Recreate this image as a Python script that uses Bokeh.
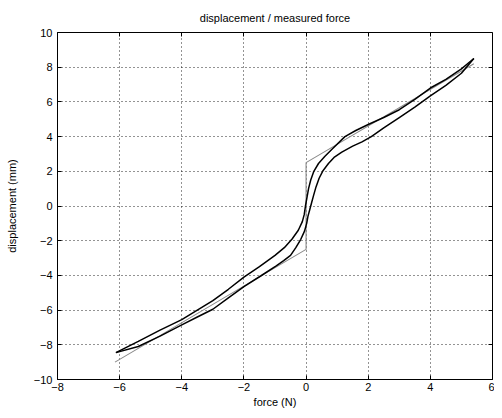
from bokeh.plotting import figure
from bokeh.models import Range1d, FixedTicker, LinearAxis, CustomJSTickFormatter
from bokeh.embed import file_html
from bokeh.resources import INLINE

# --- data ---
x_ticks = [-8, -6, -4, -2, 0, 2, 4, 6]
y_ticks = [-10, -8, -6, -4, -2, 0, 2, 4, 6, 8, 10]

# upper branch of the hysteresis loop (force N, displacement mm)
up_force = [-6.12, -5.4, -4.7, -4.0, -3.5, -3.0, -2.5, -2.0, -1.5, -1.0, -0.7, -0.45,
            -0.25, -0.12, -0.06, -0.02, 0.03, 0.08, 0.15, 0.25, 0.4, 0.6, 0.85, 1.25,
            1.6, 2.0, 2.5, 3.0, 3.5, 4.0, 4.5, 5.0, 5.4]
up_disp = [-8.45, -7.8, -7.15, -6.55, -6.0, -5.45, -4.8, -4.1, -3.5, -2.85, -2.4, -1.9,
           -1.4, -0.9, -0.5, 0.0, 0.5, 1.0, 1.5, 2.0, 2.45, 2.85, 3.3, 4.0,
           4.35, 4.7, 5.1, 5.55, 6.15, 6.8, 7.3, 7.9, 8.5]

# lower branch of the hysteresis loop
down_force = [5.4, 5.0, 4.5, 4.0, 3.5, 3.0, 2.5, 2.1, 1.8, 1.5, 1.15, 0.9, 0.72, 0.55,
              0.42, 0.32, 0.24, 0.18, 0.12, 0.06, 0.02, -0.05, -0.17, -0.33, -0.5,
              -0.72, -0.96, -1.45, -2.0, -2.5, -3.0, -3.5, -4.0, -4.7, -5.4, -6.12]
down_disp = [8.5, 7.65, 6.95, 6.35, 5.7, 5.1, 4.5, 4.0, 3.7, 3.45, 3.1, 2.8, 2.45, 2.05,
             1.6, 1.1, 0.6, 0.2, -0.2, -0.6, -1.0, -1.45, -1.92, -2.4, -2.85,
             -3.15, -3.45, -4.02, -4.65, -5.3, -5.95, -6.4, -6.85, -7.5, -8.1, -8.45]

# model (gray) line
model_force = [-6.15, 0.0, 0.0, 5.4]
model_disp = [-9.0, -2.5, 2.5, 8.2]

FONT = "Liberation Sans"

p = figure(width=494, height=410, output_backend="svg", toolbar_location=None,
           x_range=Range1d(-8, 6), y_range=Range1d(-10, 10),
           min_border_left=57, min_border_right=2, min_border_top=32, min_border_bottom=0,
           title="displacement / measured force")
p.background_fill_color = "white"
p.border_fill_color = "white"
p.outline_line_color = "black"
p.outline_line_width = 1

p.title.align = "center"
p.title.text_font = FONT
p.title.text_font_size = "11px"
p.title.text_font_style = "normal"
p.title.text_color = "black"
p.title.offset = 0
p.title.standoff = 17

for ax in (p.xaxis[0], p.yaxis[0]):
    ax.major_label_text_font = FONT
    ax.major_label_text_font_size = "11px"
    ax.major_label_text_color = "black"
    ax.axis_label_text_font = FONT
    ax.axis_label_text_font_size = "11px"
    ax.axis_label_text_font_style = "normal"
    ax.axis_label_text_color = "black"
    ax.major_tick_in = 4
    ax.major_tick_out = 0
    ax.minor_tick_line_color = None
    ax.axis_line_color = "black"
    ax.major_tick_line_color = "black"

p.xaxis[0].ticker = FixedTicker(ticks=x_ticks)
p.yaxis[0].ticker = FixedTicker(ticks=y_ticks)
p.xaxis[0].axis_label = "force (N)"
p.yaxis[0].axis_label = "displacement (mm)"
p.xaxis[0].major_label_standoff = 3
p.xaxis[0].axis_label_standoff = 2
p.yaxis[0].major_label_standoff = 5
p.yaxis[0].axis_label_standoff = 13

blank = CustomJSTickFormatter(code="return '';")
top = LinearAxis(ticker=FixedTicker(ticks=x_ticks), formatter=blank,
                 fixed_location=y_ticks[-1],
                 major_tick_in=4, major_tick_out=0, minor_tick_line_color=None,
                 major_label_standoff=0, major_label_text_font_size="1px",
                 axis_line_color="black", major_tick_line_color="black")
right = LinearAxis(ticker=FixedTicker(ticks=y_ticks), formatter=blank,
                   fixed_location=x_ticks[-1],
                   major_tick_in=4, major_tick_out=0, minor_tick_line_color=None,
                   major_label_standoff=0, major_label_text_font_size="1px",
                   axis_line_color="black", major_tick_line_color="black")
p.add_layout(top, "above")
p.add_layout(right, "right")

p.xgrid.ticker = FixedTicker(ticks=x_ticks)
p.ygrid.ticker = FixedTicker(ticks=y_ticks)
for g in (p.xgrid[0], p.ygrid[0]):
    g.grid_line_color = "black"
    g.grid_line_alpha = 0.85
    g.grid_line_dash = "1 3"
    g.grid_line_width = 1

p.line(model_force, model_disp, line_color="#8a8a8a", line_width=1.1)
p.line(up_force, up_disp, line_color="black", line_width=1.5)
p.line(down_force, down_disp, line_color="black", line_width=1.5)

open("out.html", "w").write(file_html(p, INLINE))
